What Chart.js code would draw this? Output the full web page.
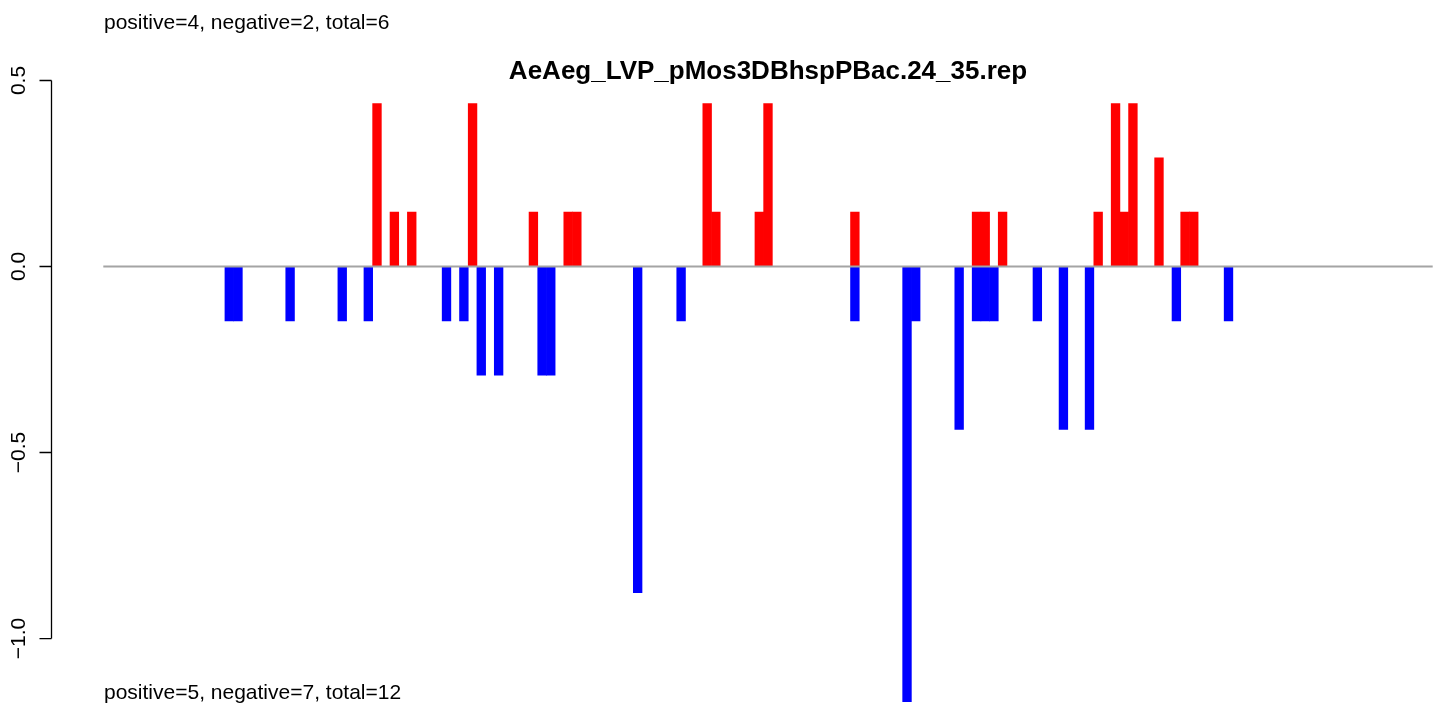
<!DOCTYPE html>
<html>
<head>
<meta charset="utf-8">
<title>AeAeg_LVP_pMos3DBhspPBac.24_35.rep</title>
<script src="https://cdn.jsdelivr.net/npm/chart.js@4/dist/chart.umd.min.js"></script>
<style>
  html, body { margin: 0; padding: 0; background: #fff; }
  canvas { display: block; }
</style>
</head>
<body>
<canvas id="repChart" width="1439" height="707"></canvas>
<script>
// bins along the track (category index) and the bar height in each bin
const slotCount = 153;
const positiveBins = [31, 33, 35, 42, 49, 53, 54, 69, 70, 75, 76, 86, 100, 101, 103, 114, 116, 117, 118, 121, 124, 125];
const positiveValues = [0.438, 0.146, 0.146, 0.438, 0.146, 0.146, 0.146, 0.438, 0.146, 0.146, 0.438, 0.146,
                        0.146, 0.146, 0.146, 0.146, 0.438, 0.146, 0.438, 0.292, 0.146, 0.146];
const negativeBins = [14, 15, 21, 27, 30, 39, 41, 43, 45, 50, 51, 61, 66, 86, 92, 93, 98, 100, 101, 102, 107, 110, 113, 123, 129];
const negativeValues = [-0.146, -0.146, -0.146, -0.146, -0.146, -0.146, -0.146, -0.292, -0.292, -0.292, -0.292, -0.877,
                        -0.146, -0.146, -1.17, -0.146, -0.438, -0.146, -0.146, -0.146, -0.146, -0.438, -0.438, -0.146, -0.146];
const yTicks = [0.5, 0.0, -0.5, -1.0];
const yTickLabels = ["0.5", "0.0", "\u22120.5", "\u22121.0"];
const titleText = "AeAeg_LVP_pMos3DBhspPBac.24_35.rep";
const topNote = "positive=4, negative=2, total=6";
const bottomNote = "positive=5, negative=7, total=12";

const FONT = '"Liberation Sans", Arial, Helvetica, sans-serif';

function fillSlots(bins, values) {
    const out = new Array(slotCount).fill(null);
    bins.forEach((b, i) => { out[b] = values[i]; });
    return out;
}

const labels = Array.from({ length: slotCount }, (_, i) => String(i + 1));

// R-like decorations: zero line, left axis, title and notes
const rStylePlot = {
    id: 'rStylePlot',
    afterDatasetsDraw(chart) {
        const { ctx, chartArea, scales } = chart;
        const y = scales.y;
        ctx.save();

        const y0 = y.getPixelForValue(0);
        ctx.strokeStyle = '#a4a4a4';
        ctx.lineWidth = 2;
        ctx.beginPath();
        ctx.moveTo(chartArea.left, y0);
        ctx.lineTo(chartArea.right, y0);
        ctx.stroke();

        const axisX = 51.5;
        ctx.strokeStyle = '#000';
        ctx.lineWidth = 1.3;
        ctx.beginPath();
        ctx.moveTo(axisX, y.getPixelForValue(yTicks[0]));
        ctx.lineTo(axisX, y.getPixelForValue(yTicks[yTicks.length - 1]));
        yTicks.forEach(t => {
            const py = y.getPixelForValue(t);
            ctx.moveTo(axisX, py);
            ctx.lineTo(axisX - 12, py);
        });
        ctx.stroke();

        ctx.fillStyle = '#000';
        ctx.font = '21px ' + FONT;
        ctx.textAlign = 'center';
        ctx.textBaseline = 'alphabetic';
        yTicks.forEach((t, i) => {
            ctx.save();
            ctx.translate(25, y.getPixelForValue(t));
            ctx.rotate(-Math.PI / 2);
            ctx.fillText(yTickLabels[i], 0, 0);
            ctx.restore();
        });

        ctx.textAlign = 'left';
        ctx.fillText(topNote, 104, 29);
        ctx.fillText(bottomNote, 104, 699);

        ctx.font = 'bold 26px ' + FONT;
        ctx.textAlign = 'center';
        ctx.fillText(titleText, (chartArea.left + chartArea.right) / 2, 79);

        ctx.restore();
    }
};

new Chart(document.getElementById('repChart'), {
    type: 'bar',
    data: {
        labels: labels,
        datasets: [
            { label: 'positive', data: fillSlots(positiveBins, positiveValues), backgroundColor: '#ff0000' },
            { label: 'negative', data: fillSlots(negativeBins, negativeValues), backgroundColor: '#0000ff' }
        ]
    },
    options: {
        responsive: false,
        animation: false,
        layout: { padding: { left: 103.3, right: 6.3, top: 80.5, bottom: 1.5 } },
        datasets: {
            bar: { grouped: false, barPercentage: 1, categoryPercentage: 1, borderWidth: 0 }
        },
        scales: {
            x: { display: false },
            y: { display: false, min: -1.18, max: 0.5 }
        },
        plugins: {
            legend: { display: false },
            tooltip: { enabled: false }
        }
    },
    plugins: [rStylePlot]
});
</script>
</body>
</html>
